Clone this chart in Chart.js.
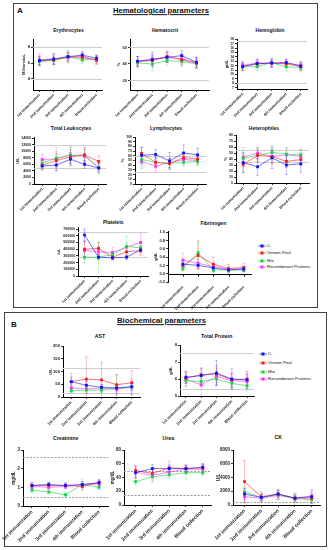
<!DOCTYPE html>
<html>
<head>
<meta charset="utf-8">
<script src="https://cdn.jsdelivr.net/npm/chart.js@4.4.0/dist/chart.umd.min.js"></script>
<style>
  body { margin: 0; background: #fff; width: 329px; height: 550px; position: relative; overflow: hidden;
         font-family: "Liberation Sans", Arial, sans-serif; color: #111; }
  .panel { position: absolute; border: 1px solid #444; box-sizing: border-box; }
  .t { position: absolute; white-space: nowrap; font-weight: bold; transform: translate(-50%, -50%); line-height: 1; }
  .u { text-decoration: underline; }
  canvas { position: absolute; }
  .leg { position: absolute; white-space: nowrap; line-height: 1; transform: translateY(-50%); }
  .mk { position: absolute; transform: translate(-50%, -50%); }
</style>
</head>
<body>
<div class="panel" style="left:13px; top:3px; width:305px; height:305px;"></div>
<div class="panel" style="left:4px; top:312px; width:323px; height:235px;"></div>
<div class="t" style="left:20px; top:11px; font-size:8px;">A</div>
<div class="t u" style="left:161px; top:11px; font-size:7.7px;">Hematological parameters</div>
<div class="t" style="left:14px; top:325px; font-size:8px;">B</div>
<div class="t u" style="left:161.5px; top:321px; font-size:7.7px;">Biochemical parameters</div>
<div id="root"></div>
<script>
// groups and time points
const timepoints = ['1st immunization', '2nd immunization', '3rd immunization', '4th immunization', 'Blood collection'];
const groups = ['C-', 'Venom Pool', 'Mix', 'Recombinant Proteins'];
const groupColors = ['#1010ff', '#ff1a1a', '#10d840', '#ff30ff'];

// each parameter: mean and SD rows in group order (C-, Venom Pool, Mix, Recombinant Proteins)
const eryMean = [[6.3, 6.5, 6.8, 7.0, 6.6], [6.3, 6.4, 6.8, 6.7, 6.4], [6.2, 6.3, 6.8, 6.4, 6.5], [6.4, 6.5, 6.7, 6.9, 6.3]];
const erySd   = [[0.5, 0.7, 0.5, 0.4, 0.4], [0.6, 0.5, 0.6, 0.5, 0.5], [0.5, 0.5, 0.8, 0.5, 0.5], [0.8, 0.6, 0.6, 0.5, 0.5]];
const eryTicks = [4, 6, 8];
const eryRefs = [4, 8];

const hctMean = [[41.6, 42.6, 44, 45, 41], [41.5, 42, 44.5, 42.5, 40.5], [40.5, 40, 42, 41.5, 40], [41.5, 43, 44, 43, 41]];
const hctSd   = [[3, 4.5, 3, 3, 3], [3, 3, 3.5, 3, 3], [2.5, 4, 3, 3, 3], [3, 3, 3, 3, 3]];
const hctTicks = [30, 40, 50];
const hctRefs = [30, 50];

const hgbMean = [[11.8, 12.5, 12.6, 12.7, 11.9], [11.8, 12.4, 12.6, 12.4, 11.8], [11.7, 11.8, 12.7, 11.7, 11.6], [12.1, 12.6, 12.5, 12.6, 12.1]];
const hgbSd   = [[0.8, 1.0, 0.8, 0.8, 0.8], [0.9, 0.8, 0.9, 0.8, 0.9], [0.9, 0.8, 1.1, 0.9, 0.8], [0.9, 0.8, 0.8, 0.8, 0.9]];
const hgbTicks = [7, 8, 9, 10, 11, 12, 13, 14, 15, 16, 17, 18];
const hgbRefs = [8, 17.5];

const leukMean = [[5500, 5800, 7600, 6000, 4900], [5700, 7200, 8300, 8900, 6900], [6400, 7900, 8800, 8900, 4900], [7500, 7700, 8900, 8500, 5000]];
const leukSd   = [[1000, 1800, 2000, 1200, 1200], [1500, 2000, 2200, 2200, 1800], [1500, 2000, 2500, 2300, 1800], [1500, 3500, 2500, 2000, 1500]];
const leukTicks = [0, 2000, 4000, 6000, 8000, 10000, 12000, 14000];
const leukRefs = [5000, 12000];

const lymphMean = [[61, 63, 49, 66, 62], [65, 46, 44, 56, 53], [52, 46, 44, 46, 48], [48, 38, 45, 52, 50]];
const lymphSd   = [[17, 10, 18, 17, 14], [13, 12, 10, 10, 10], [10, 10, 10, 8, 8], [15, 12, 10, 10, 10]];
const lymphTicks = [0, 10, 20, 30, 40, 50, 60, 70, 80, 90, 100];
const lymphRefs = [25, 60];

const hetMean = [[34, 27, 42, 30, 32], [31, 46, 44, 36, 39], [41, 46, 51, 48, 47], [43, 50, 44, 47, 44]];
const hetSd   = [[16, 14, 18, 16, 14], [14, 12, 12, 10, 10], [10, 10, 11, 10, 9], [16, 10, 10, 12, 12]];
const hetTicks = [0, 10, 20, 30, 40, 50, 60, 70, 80];
const hetRefs = [35, 55];

const pltMean = [[610000, 280000, 270000, 280000, 390000], [400000, 410000, 280000, 360000, 380000], [280000, 280000, 320000, 440000, 420000], [380000, 360000, 350000, 430000, 500000]];
const pltSd   = [[90000, 40000, 30000, 30000, 40000], [120000, 90000, 40000, 60000, 70000], [80000, 220000, 50000, 150000, 60000], [130000, 80000, 80000, 60000, 140000]];
const pltTicks = [0, 100000, 200000, 300000, 400000, 500000, 600000, 700000];
const pltRefs = [290000, 650000];

const fibMean = [[0.23, 0.20, 0.14, 0.09, 0.11], [0.20, 0.44, 0.23, 0.12, 0.15], [0.12, 0.51, 0.09, 0.09, 0.09], [0.33, 0.25, 0.17, 0.11, 0.12]];
const fibSd   = [[0.06, 0.08, 0.08, 0.04, 0.05], [0.12, 0.33, 0.17, 0.10, 0.10], [0.05, 0.29, 0.06, 0.05, 0.05], [0.17, 0.10, 0.08, 0.06, 0.06]];
const fibTicks = [-0.2, 0, 0.2, 0.4, 0.6, 0.8, 1.0];
const fibRefs = [];

const astMean = [[60, 46, 38, 35, 40], [60, 70, 67, 48, 56], [24, 27, 27, 37, 40], [35, 32, 35, 30, 40]];
const astSd   = [[18, 15, 12, 12, 12], [33, 87, 70, 40, 47], [8, 12, 10, 50, 30], [15, 18, 15, 15, 15]];
const astTicks = [0, 50, 100, 150, 200];
const astRefs = [15, 115];

const tpMean = [[6.1, 6.2, 6.35, 6.0, 5.95], [6.05, 6.25, 6.3, 5.95, 6.0], [5.9, 5.85, 6.0, 5.75, 5.6], [6.0, 5.65, 6.15, 5.9, 5.85]];
const tpSd   = [[0.35, 0.45, 0.75, 0.6, 0.5], [0.3, 0.35, 0.5, 0.4, 0.3], [0.3, 0.3, 0.35, 0.3, 0.3], [0.45, 0.6, 0.5, 0.4, 0.4]];
const tpTicks = [5, 6, 7, 8];
const tpRefs = [5.4, 7.5];

const creatMean = [[1.1, 1.15, 1.1, 1.15, 1.25], [1.1, 1.1, 1.1, 1.05, 1.25], [0.85, 0.75, 0.6, 1.15, 1.0], [1.05, 1.0, 1.05, 1.15, 1.2]];
const creatSd   = [[0.15, 0.12, 0.12, 0.15, 0.15], [0.15, 0.15, 0.15, 0.15, 0.15], [0.12, 0.1, 0.1, 0.3, 0.1], [0.12, 0.12, 0.12, 0.15, 0.15]];
const creatTicks = [0, 1, 2, 3];
const creatRefs = [0.5, 2.6];

const ureaMean = [[47, 53, 53, 53, 55], [50, 46, 54, 53, 54], [34, 41, 44, 47, 47], [48, 43, 48, 52, 52]];
const ureaSd   = [[7, 6, 5, 5, 5], [7, 6, 10, 5, 5], [5, 5, 5, 9, 5], [9, 10, 6, 6, 8]];
const ureaTicks = [0, 20, 40, 60, 80];
const ureaRefs = [15, 50];

const ckMean = [[1600, 1100, 1600, 1000, 1200], [3400, 1200, 1600, 1000, 1000], [1900, 1100, 1500, 900, 800], [1200, 1000, 1400, 1000, 1300]];
const ckSd   = [[800, 500, 500, 400, 1000], [3100, 700, 700, 600, 600], [600, 500, 700, 800, 500], [700, 600, 600, 500, 600]];
const ckTicks = [0, 2000, 4000, 6000, 8000];
const ckRefs = [400];

Chart.defaults.font.family = '"Liberation Sans", Arial, sans-serif';
Chart.defaults.color = '#222';

function alpha(hex, a) {
    const n = parseInt(hex.slice(1), 16);
    return `rgba(${n >> 16}, ${(n >> 8) & 255}, ${n & 255}, ${a})`;
}

// gray reference ranges behind the data
const refLinePlugin = {
    id: 'refLines',
    beforeDatasetsDraw(chart, args, opts) {
        const { ctx, chartArea: a, scales: { y } } = chart;
        ctx.save();
        ctx.strokeStyle = opts.color;
        ctx.lineWidth = 1;
        if (opts.dash) ctx.setLineDash(opts.dash);
        (opts.values || []).forEach(v => {
            const py = Math.round(y.getPixelForValue(v)) + 0.5;
            ctx.beginPath();
            ctx.moveTo(a.left, py);
            ctx.lineTo(a.right, py);
            ctx.stroke();
        });
        ctx.restore();
    }
};

// mean +/- SD whiskers
const errorBarPlugin = {
    id: 'errorBars',
    beforeDatasetsDraw(chart) {
        const { ctx, chartArea: a, scales: { y } } = chart;
        ctx.save();
        ctx.beginPath();
        ctx.rect(a.left, a.top - 2, a.right - a.left, a.bottom - a.top + 2);
        ctx.clip();
        for (let i = chart.data.datasets.length - 1; i >= 0; i--) {
            const ds = chart.data.datasets[i];
            const meta = chart.getDatasetMeta(i);
            ctx.strokeStyle = ds.errColor;
            ctx.lineWidth = 0.8;
            meta.data.forEach((pt, j) => {
                const m = ds.data[j].y, e = ds.errors[j];
                const y1 = y.getPixelForValue(m + e), y2 = y.getPixelForValue(m - e);
                ctx.beginPath();
                ctx.moveTo(pt.x, y1); ctx.lineTo(pt.x, y2);
                ctx.moveTo(pt.x - 1.5, y1); ctx.lineTo(pt.x + 1.5, y1);
                ctx.moveTo(pt.x - 1.5, y2); ctx.lineTo(pt.x + 1.5, y2);
                ctx.stroke();
            });
        }
        ctx.restore();
    }
};

// y axis title and optional zero line
const axisExtrasPlugin = {
    id: 'axisExtras',
    afterDraw(chart, args, opts) {
        const { ctx, chartArea: a, scales: { x, y } } = chart;
        ctx.save();
        if (opts.zero) {
            const py = Math.round(y.getPixelForValue(0)) + 0.5;
            ctx.strokeStyle = '#000';
            ctx.lineWidth = 1;
            ctx.beginPath();
            ctx.moveTo(a.left, py); ctx.lineTo(a.right, py);
            [1, 2, 3, 4, 5].forEach(v => {
                const px = Math.round(x.getPixelForValue(v)) + 0.5;
                ctx.moveTo(px, py); ctx.lineTo(px, py + 2);
            });
            ctx.stroke();
        }
        ctx.translate(a.left - opts.offset, (a.top + a.bottom) / 2);
        ctx.rotate(-Math.PI / 2);
        ctx.font = `bold ${opts.size}px "Liberation Sans", Arial, sans-serif`;
        ctx.textAlign = 'center';
        ctx.textBaseline = 'middle';
        ctx.fillStyle = '#222';
        ctx.fillText(opts.text, 0, 0);
        ctx.restore();
    }
};

const Y_W = 40, X_H = 38, PAD = 3;

function makeChart(c) {
    const [L, T, R, B] = c.box;
    const s = (c.pts[1] - c.pts[0]) / 4;
    const xmin = 1 - (c.pts[0] - L) / s;
    const xmax = 5 + (R - c.pts[1]) / s;

    const cv = document.createElement('canvas');
    const left = L - Y_W, top = T - PAD;
    cv.width = Math.round(R + PAD - left);
    cv.height = Math.round(B + X_H - top);
    cv.style.left = left + 'px';
    cv.style.top = top + 'px';
    document.getElementById('root').appendChild(cv);

    const datasets = groups.map((g, i) => ({
        label: g,
        data: c.mean[i].map((v, j) => ({ x: j + 1, y: v })),
        errors: c.sd[i],
        errColor: alpha(groupColors[i], 0.35),
        borderColor: alpha(groupColors[i], 0.6),
        backgroundColor: groupColors[i],
        pointBackgroundColor: groupColors[i],
        pointBorderWidth: 0,
        pointStyle: 'rect',
        pointRadius: 2,
        borderWidth: 1,
        tension: 0
    }));

    new Chart(cv.getContext('2d'), {
        type: 'line',
        data: { datasets },
        plugins: [refLinePlugin, errorBarPlugin, axisExtrasPlugin],
        options: {
            responsive: false,
            animation: false,
            layout: { padding: { left: 0, top: PAD, right: PAD, bottom: 0 } },
            plugins: {
                legend: { display: false },
                tooltip: { enabled: false },
                refLines: { values: c.refs, color: c.dash ? '#9a9a9a' : '#cfcfcf', dash: c.dash ? [2, 1.5] : null },
                axisExtras: { text: c.ytitle, offset: c.yoff, size: c.tsize || 4, zero: !!c.zero }
            },
            scales: {
                x: {
                    type: 'linear',
                    min: xmin,
                    max: xmax,
                    afterBuildTicks: (sc) => { sc.ticks = [1, 2, 3, 4, 5].map(v => ({ value: v })); },
                    afterFit: (sc) => { sc.height = X_H; sc.paddingLeft = 0; sc.paddingRight = 0; },
                    border: { display: !c.zero, color: '#000', width: 1 },
                    grid: { display: true, drawOnChartArea: false, drawTicks: !c.zero, tickLength: 2, color: '#000', lineWidth: 0.8 },
                    ticks: {
                        autoSkip: false,
                        minRotation: 45,
                        maxRotation: 45,
                        padding: c.zero ? 3 : 1,
                        font: { size: c.xsize, weight: 'bold' },
                        color: '#222',
                        callback: (v) => timepoints[v - 1] || ''
                    }
                },
                y: {
                    min: c.y[0],
                    max: c.y[1],
                    afterBuildTicks: (sc) => { sc.ticks = c.ticks.map(v => ({ value: v })); },
                    afterFit: (sc) => { sc.width = Y_W; sc.paddingTop = 0; sc.paddingBottom = 0; },
                    border: { display: true, color: '#000', width: 1 },
                    grid: { display: true, drawOnChartArea: false, drawTicks: true, tickLength: 2, color: '#000', lineWidth: 0.8 },
                    ticks: {
                        autoSkip: false,
                        padding: 1,
                        font: { size: c.ysize, weight: 'bold' },
                        color: '#222',
                        callback: (v) => c.fmt ? c.fmt(v) : String(v)
                    }
                }
            }
        }
    });
}

const charts = [
    { box: [33, 37.5, 103, 89], pts: [39.5, 97.5], y: [2.6, 9.03], ticks: eryTicks, refs: eryRefs, mean: eryMean, sd: erySd, ytitle: 'Millions/uL', yoff: 9, xsize: 3.8, ysize: 4 },
    { box: [130, 37.5, 210, 89], pts: [137.7, 197.3], y: [24.2, 55.1], ticks: hctTicks, refs: hctRefs, mean: hctMean, sd: hctSd, ytitle: '%', yoff: 11, xsize: 3.8, ysize: 4 },
    { box: [237, 37.5, 308, 88.7], pts: [242.7, 301.7], y: [6.7, 18.05], ticks: hgbTicks, refs: hgbRefs, mean: hgbMean, sd: hgbSd, ytitle: 'g/dL', yoff: 10, xsize: 3.8, ysize: 3.4 },
    { box: [33.5, 135.5, 106, 183], pts: [41.7, 98.7], y: [0, 14400], ticks: leukTicks, refs: leukRefs, mean: leukMean, sd: leukSd, ytitle: 'U/L', yoff: 16, xsize: 3.8, ysize: 3.5 },
    { box: [135, 135.5, 207, 183], pts: [141.7, 198.5], y: [0, 100], ticks: lymphTicks, refs: lymphRefs, mean: lymphMean, sd: lymphSd, ytitle: '%', yoff: 12, xsize: 3.8, ysize: 3.5 },
    { box: [236, 134.3, 310, 183.3], pts: [243.3, 301.7], y: [0, 80], ticks: hetTicks, refs: hetRefs, mean: hetMean, sd: hetSd, ytitle: '%', yoff: 10, xsize: 3.8, ysize: 3.5 },
    { box: [77.7, 226, 149, 276], pts: [84.3, 141.5], y: [0, 730000], ticks: pltTicks, refs: pltRefs, mean: pltMean, sd: pltSd, ytitle: '/uL', yoff: 19, xsize: 3.8, ysize: 3.5 },
    { box: [168.3, 229.5, 253, 281.8], pts: [183.3, 244.7], y: [-0.2, 1.03], ticks: fibTicks, refs: fibRefs, mean: fibMean, sd: fibSd, ytitle: 'g/dL', yoff: 12, xsize: 3.8, ysize: 4, zero: true, fmt: (v) => v.toFixed(1) },
    { box: [63.3, 345, 141.7, 396.7], pts: [71.7, 133.3], y: [0, 200], ticks: astTicks, refs: astRefs, mean: astMean, sd: astSd, ytitle: 'U/L', yoff: 12, xsize: 4, ysize: 4.2 },
    { box: [180, 344.3, 255, 396.7], pts: [186, 248], y: [5, 8], ticks: tpTicks, refs: tpRefs, mean: tpMean, sd: tpSd, ytitle: 'g/dL', yoff: 9, xsize: 4, ysize: 4.2 },
    { box: [22.7, 449, 108.3, 505.7], pts: [31.7, 99.3], y: [0, 3], ticks: creatTicks, refs: creatRefs, mean: creatMean, sd: creatSd, ytitle: 'mg/dL', yoff: 9, xsize: 5, ysize: 4.5, tsize: 4.5, dash: true },
    { box: [124.3, 449.3, 212.3, 505.7], pts: [136, 204], y: [0, 80], ticks: ureaTicks, refs: ureaRefs, mean: ureaMean, sd: ureaSd, ytitle: 'mg/dL', yoff: 11, xsize: 5, ysize: 4.5, tsize: 4.5, dash: true },
    { box: [233.3, 449, 321.7, 505], pts: [245, 313.3], y: [0, 8000], ticks: ckTicks, refs: ckRefs, mean: ckMean, sd: ckSd, ytitle: 'U/L', yoff: 14, xsize: 5, ysize: 4.5, tsize: 4.5, dash: true }
];

const titles = [
    ['Erythrocytes', 68.5, 30, 5], ['Hematocrit', 165, 30, 5], ['Hemoglobin', 270, 30, 5],
    ['Total Leukocytes', 71, 128.3, 5], ['Lymphocytes', 166, 128.3, 5], ['Heterophiles', 264, 128.3, 5],
    ['Platelets', 113.3, 221.5, 5], ['Fibrinogen', 213.3, 223.3, 5],
    ['AST', 100, 336.7, 5.2], ['Total Protein', 216.7, 336.7, 5.2],
    ['Creatinine', 65.7, 439.3, 5.2], ['Urea', 168.3, 439.3, 5.2], ['CK', 278.3, 438.3, 5.2]
];

const root = document.getElementById('root');
titles.forEach(([txt, x, y, fs]) => {
    const d = document.createElement('div');
    d.className = 't';
    d.style.cssText = `left:${x}px; top:${y}px; font-size:${fs}px;`;
    d.textContent = txt;
    root.appendChild(d);
});

function addLegend(mx, tx, rows, fs) {
    groups.forEach((g, i) => {
        const line = document.createElement('div');
        line.className = 'mk';
        line.style.cssText = `left:${mx}px; top:${rows[i]}px; width:8px; height:1px; background:${alpha(groupColors[i], 0.6)};`;
        root.appendChild(line);
        const sq = document.createElement('div');
        sq.className = 'mk';
        sq.style.cssText = `left:${mx}px; top:${rows[i]}px; width:3px; height:3px; background:${groupColors[i]};`;
        root.appendChild(sq);
        const t = document.createElement('div');
        t.className = 'leg';
        t.style.cssText = `left:${tx}px; top:${rows[i]}px; font-size:${fs}px;`;
        t.textContent = g;
        root.appendChild(t);
    });
}
addLegend(261.7, 267, [245.7, 253.3, 260.7, 267.3], 4.4);
addLegend(263.3, 268, [354.3, 363.3, 372, 379.3], 4.4);

charts.forEach(makeChart);
</script>
</body>
</html>
